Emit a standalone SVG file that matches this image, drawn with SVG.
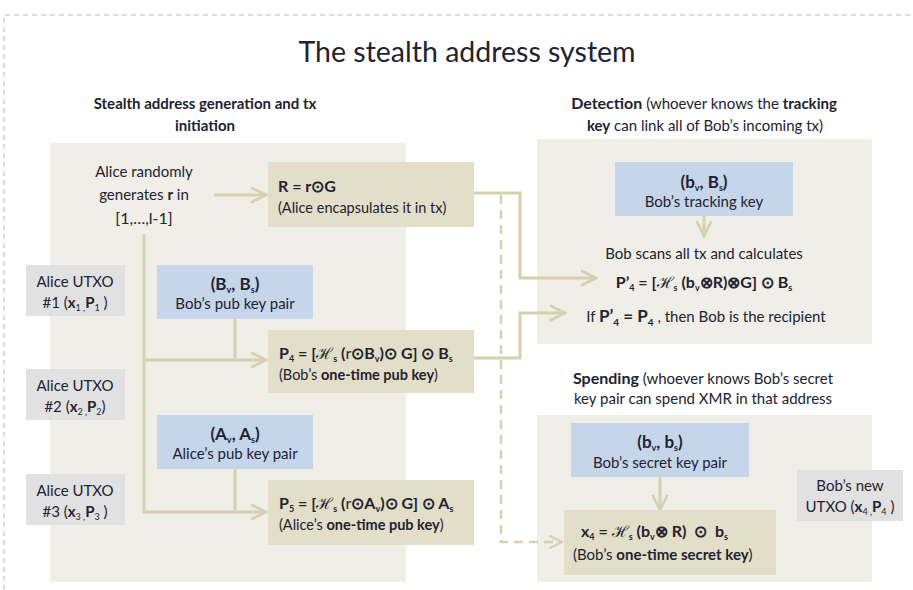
<svg xmlns="http://www.w3.org/2000/svg" width="913" height="590" viewBox="0 0 913 590">
<style>
text{font-family:Lato,"Liberation Sans",sans-serif;fill:#222230;font-size:15px}
.b{font-weight:bold}
.c{text-anchor:middle}
.f{font-size:16px;font-weight:bold}
.h{font-weight:normal}
.cap{font-size:14.5px}
.panel{fill:#efeee7}
.beige{fill:#e2dec8}
.blue{fill:#c6d6ea}
.gray{fill:#e1e1e1}
.con{fill:none;stroke:#d5d0ad;stroke-width:3}
.dash{fill:none;stroke:#d5d0ad;stroke-width:2.5;stroke-dasharray:9 6}
</style>
<defs>
<marker id="ah" viewBox="0 0 12 12" refX="11" refY="6" markerWidth="6" markerHeight="6" markerUnits="strokeWidth" orient="auto">
<path d="M1,1 L11,6 L1,11" fill="none" stroke="#d5d0ad" stroke-width="1.8"/>
</marker>
</defs>
<path d="M4,590 V15 H913" fill="none" stroke="#b8b8b8" stroke-width="1" stroke-dasharray="5 4"/>
<text x="467" y="62" class="c" style="font-size:28.5px">The stealth address system</text>

<g id="left-panel">
<rect class="panel" x="50" y="143" width="356" height="439"/>
<text x="205" y="109" class="c b">Stealth address generation and tx</text>
<text x="205" y="131" class="c b">initiation</text>
</g>
<g id="detection-panel">
<rect class="panel" x="537" y="139" width="335" height="205"/>
<text x="704" y="109" class="c"><tspan class="b" style="font-size:16px">Detection</tspan> (whoever knows the <tspan class="b">tracking</tspan></text>
<text x="705" y="131" class="c"><tspan class="b">key</tspan> can link all of Bob’s incoming tx)</text>
</g>
<g id="spending-panel">
<rect class="panel" x="537" y="415" width="335" height="167"/>
<text x="703" y="384" class="c"><tspan class="b" style="font-size:16px">Spending</tspan> (whoever knows Bob’s secret</text>
<text x="703" y="404" class="c">key pair can spend XMR in that address</text>
</g>

<g id="connectors">
<path class="con" d="M214,195 H266" marker-end="url(#ah)"/>
<path class="con" d="M144,234 V512 H266" marker-end="url(#ah)"/>
<path class="con" d="M144,360 H266" marker-end="url(#ah)"/>
<path class="con" d="M235,319 V360"/>
<path class="con" d="M235,469 V512"/>
<path class="con" d="M474,193 H520 V278 H596" marker-end="url(#ah)"/>
<path class="con" d="M474,358 H520 V313 H565" marker-end="url(#ah)"/>
<path class="dash" d="M501,195 V542 H562" marker-end="url(#ah)"/>
<path class="con" d="M704,216 V236" marker-end="url(#ah)"/>
<path class="con" d="M660,477 V510" marker-end="url(#ah)"/>
</g>

<g id="alice-random">
<text x="144" y="177" class="c">Alice randomly</text>
<text x="144" y="200" class="c">generates <tspan class="b">r</tspan> in</text>
<text x="144" y="224" class="c" style="font-size:16px">[1,…,l-1]</text>
</g>
<g id="R-box">
<rect class="beige" x="268" y="162" width="206" height="65"/>
<text x="278" y="192" class="f">R = r⊙G</text>
<text x="278" y="213" class="cap">(Alice encapsulates it in tx)</text>
</g>
<g id="utxo1">
<rect class="gray" x="26" y="265" width="99" height="51"/>
<text x="75" y="287" class="c">Alice UTXO</text>
<text x="75" y="308" class="c">#1 (<tspan class="b">x</tspan><tspan font-size="9" dy="3">1 ,</tspan><tspan class="b" dy="-3">P</tspan><tspan font-size="9" dy="3">1</tspan><tspan dy="-3"> )</tspan></text>
</g>
<g id="utxo2">
<rect class="gray" x="26" y="369" width="99" height="51"/>
<text x="75" y="391" class="c">Alice UTXO</text>
<text x="75" y="412" class="c">#2 (<tspan class="b">x</tspan><tspan font-size="9" dy="3">2 ,</tspan><tspan class="b" dy="-3">P</tspan><tspan font-size="9" dy="3">2</tspan><tspan dy="-3">)</tspan></text>
</g>
<g id="utxo3">
<rect class="gray" x="26" y="474" width="99" height="51"/>
<text x="75" y="496" class="c">Alice UTXO</text>
<text x="75" y="517" class="c">#3 (<tspan class="b">x</tspan><tspan font-size="9" dy="3">3 ,</tspan><tspan class="b" dy="-3">P</tspan><tspan font-size="9" dy="3">3</tspan><tspan dy="-3"> )</tspan></text>
</g>
<g id="bob-pub">
<rect class="blue" x="157" y="265" width="156" height="54"/>
<text x="235" y="290" class="c b" style="font-size:17px">(B<tspan font-size="9" dy="3">v</tspan><tspan dy="-3">, B</tspan><tspan font-size="9" dy="3">s</tspan><tspan dy="-3">)</tspan></text>
<text x="235" y="309" class="c">Bob’s pub key pair</text>
</g>
<g id="P4-box">
<rect class="beige" x="268" y="330" width="206" height="63"/>
<text x="279" y="359" class="f">P<tspan font-size="9" dy="3">4</tspan><tspan dy="-3"> = [</tspan><tspan class="h">ℋ</tspan><tspan font-size="9" dy="3">s</tspan><tspan dy="-3"> (</tspan><tspan class="h">r</tspan><tspan>⊙B</tspan><tspan font-size="9" dy="3">v</tspan><tspan dy="-3">)⊙ G] ⊙ B</tspan><tspan font-size="9" dy="3">s</tspan></text>
<text x="279" y="380" class="cap">(Bob’s <tspan class="b">one-time pub key</tspan>)</text>
</g>
<g id="alice-pub">
<rect class="blue" x="157" y="415" width="156" height="54"/>
<text x="235" y="440" class="c b" style="font-size:17px">(A<tspan font-size="9" dy="3">v</tspan><tspan dy="-3">, A</tspan><tspan font-size="9" dy="3">s</tspan><tspan dy="-3">)</tspan></text>
<text x="235" y="459" class="c">Alice’s pub key pair</text>
</g>
<g id="P5-box">
<rect class="beige" x="268" y="480" width="206" height="65"/>
<text x="279" y="509" class="f">P<tspan font-size="9" dy="3">5</tspan><tspan dy="-3"> = [</tspan><tspan class="h">ℋ</tspan><tspan font-size="9" dy="3">s</tspan><tspan dy="-3"> (</tspan><tspan class="h">r</tspan><tspan>⊙A</tspan><tspan font-size="9" dy="3">v</tspan><tspan dy="-3">)⊙ G] ⊙ A</tspan><tspan font-size="9" dy="3">s</tspan></text>
<text x="279" y="530" class="cap">(Alice’s <tspan class="b">one-time pub key</tspan>)</text>
</g>

<g id="tracking-key">
<rect class="blue" x="615" y="162" width="178" height="54"/>
<text x="704" y="188" class="c b" style="font-size:17px">(b<tspan font-size="9" dy="3">v</tspan><tspan dy="-3">, B</tspan><tspan font-size="9" dy="3">s</tspan><tspan dy="-3">)</tspan></text>
<text x="704" y="207" class="c">Bob’s tracking key</text>
</g>
<g id="scan">
<text x="704" y="259" class="c">Bob scans all tx and calculates</text>
<text x="704" y="288" class="c f">P’<tspan font-size="9" dy="3">4</tspan><tspan dy="-3"> = [</tspan><tspan class="h">ℋ</tspan><tspan font-size="9" dy="3">s</tspan><tspan dy="-3"> (b</tspan><tspan font-size="9" dy="3">v</tspan><tspan dy="-3">⊗R)⊗G] ⊙ B</tspan><tspan font-size="9" dy="3">s</tspan></text>
<text x="706" y="322" class="c">If <tspan class="b" style="font-size:17px">P’</tspan><tspan class="b" font-size="10" dy="4">4</tspan><tspan class="b" style="font-size:17px" dy="-4"> = P</tspan><tspan class="b" font-size="10" dy="4">4</tspan><tspan dy="-4"> , then Bob is the recipient</tspan></text>
</g>

<g id="secret-key">
<rect class="blue" x="571" y="423" width="178" height="54"/>
<text x="660" y="448" class="c b" style="font-size:17px">(b<tspan font-size="9" dy="3">v</tspan><tspan dy="-3">, b</tspan><tspan font-size="9" dy="3">s</tspan><tspan dy="-3">)</tspan></text>
<text x="660" y="468" class="c">Bob’s secret key pair</text>
</g>
<g id="x4-box">
<rect class="beige" x="564" y="510" width="212" height="65"/>
<text x="581" y="537" class="f" xml:space="preserve">x<tspan font-size="9" dy="3">4</tspan><tspan dy="-3"> = </tspan><tspan class="h">ℋ</tspan><tspan font-size="9" dy="3">s</tspan><tspan dy="-3"> (b</tspan><tspan font-size="9" dy="3">v</tspan><tspan dy="-3">⊗ R)  ⊙  b</tspan><tspan font-size="9" dy="3">s</tspan></text>
<text x="573" y="560" style="font-size:15px">(Bob’s <tspan class="b">one-time secret key</tspan>)</text>
</g>
<g id="bob-utxo">
<rect class="gray" x="797" y="470" width="106" height="51"/>
<text x="850" y="491" class="c">Bob’s new</text>
<text x="850" y="512" class="c">UTXO (<tspan class="b">x</tspan><tspan font-size="9" dy="3">4 ,</tspan><tspan class="b" dy="-3">P</tspan><tspan font-size="9" dy="3">4</tspan><tspan dy="-3"> )</tspan></text>
</g>
</svg>
